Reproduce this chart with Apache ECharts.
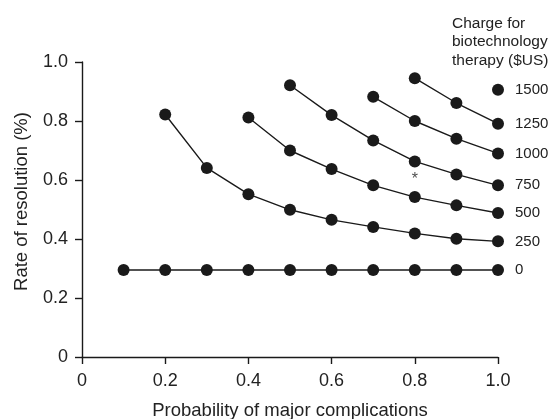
<!DOCTYPE html>
<html>
<head>
<meta charset="utf-8">
<script src="https://cdn.jsdelivr.net/npm/echarts@6/dist/echarts.min.js"></script>
<style>
html,body{margin:0;padding:0;background:#fff;}
#chart{width:552px;height:419px;}
</style>
</head>
<body>
<div id="chart"></div>
<script>
// Probability of major complications (x positions of the points)
const xValues = [0.1, 0.2, 0.3, 0.4, 0.5, 0.6, 0.7, 0.8, 0.9, 1.0];
// Charge for biotechnology therapy ($US) — series names
const charges = ['0', '250', '500', '750', '1000', '1250', '1500'];
// Rate of resolution, each aligned to the last points of xValues
const rate0    = [0.295, 0.295, 0.295, 0.295, 0.295, 0.295, 0.295, 0.295, 0.295, 0.295];
const rate250  = [0.822, 0.641, 0.552, 0.499, 0.465, 0.441, 0.419, 0.401, 0.392];
const rate500  = [0.812, 0.700, 0.637, 0.582, 0.542, 0.514, 0.488];
const rate750  = [0.921, 0.820, 0.734, 0.663, 0.619, 0.582];
const rate1000 = [0.882, 0.800, 0.740, 0.690];
const rate1250 = [0.945, 0.861, 0.791];
const rate1500 = [0.906];
const rates = [rate0, rate250, rate500, rate750, rate1000, rate1250, rate1500];
// Asterisk marker
const asteriskPoint = [0.8, 0.60];
const xTicks = [0, 0.2, 0.4, 0.6, 0.8, 1.0];
const yTicks = [0, 0.2, 0.4, 0.6, 0.8, 1.0];

const INK = '#1a1a1a';
const TXT = '#222';
const FONT = '"Liberation Sans", Arial, sans-serif';

function fmt(v) { return v === 0 ? '0' : v.toFixed(1); }

const series = rates.map(function (vals, i) {
  const xs = xValues.slice(xValues.length - vals.length);
  const data = vals.map(function (v, j) {
    const item = { value: [xs[j], v] };
    if (j === vals.length - 1) {
      item.label = {
        show: true, position: 'right', distance: 11,
        formatter: charges[i], color: TXT, fontSize: 15, fontFamily: FONT
      };
    }
    return item;
  });
  return {
    name: charges[i], type: 'line', data: data,
    symbol: 'circle', symbolSize: 12, showSymbol: true,
    lineStyle: { color: INK, width: 1.4 },
    itemStyle: { color: INK },
    label: { show: false },
    emphasis: { disabled: true },
    animation: false, z: 2
  };
});

series.push({
  type: 'scatter', data: [asteriskPoint], symbolSize: 0,
  label: { show: true, position: 'inside', formatter: '*', color: TXT, fontSize: 16, fontFamily: FONT },
  animation: false, silent: true
});

const chart = echarts.init(document.getElementById('chart'), null, { renderer: 'canvas' });
chart.setOption({
  backgroundColor: '#fff',
  animation: false,
  grid: { left: 82, right: 54, top: 62, bottom: 62, containLabel: false, outerBoundsMode: 'none' },
  xAxis: {
    type: 'value', min: 0, max: 1.0, interval: 0.2,
    name: 'Probability of major complications', nameLocation: 'middle', nameGap: 44,
    nameTextStyle: { color: TXT, fontSize: 18.5, fontFamily: FONT },
    axisLine: { show: true, onZero: false, lineStyle: { color: INK, width: 1.4 } },
    axisTick: { show: true, inside: false, length: 7, lineStyle: { color: INK, width: 1.4 } },
    axisLabel: { color: TXT, fontSize: 18, fontFamily: FONT, margin: 15, formatter: fmt },
    splitLine: { show: false }
  },
  yAxis: {
    type: 'value', min: 0, max: 1.0, interval: 0.2,
    name: 'Rate of resolution (%)', nameLocation: 'middle', nameGap: 51, nameRotate: 90,
    nameTextStyle: { color: TXT, fontSize: 18.5, fontFamily: FONT, padding: [0, 0, 0, 16] },
    axisLine: { show: true, onZero: false, lineStyle: { color: INK, width: 1.4 } },
    axisTick: { show: true, inside: false, length: 7, lineStyle: { color: INK, width: 1.4 } },
    axisLabel: { color: TXT, fontSize: 18, fontFamily: FONT, margin: 14, formatter: fmt },
    splitLine: { show: false }
  },
  graphic: [{
    type: 'text', left: 452, top: 14,
    style: {
      text: 'Charge for\nbiotechnology\ntherapy ($US)',
      fill: TXT, fontSize: 15.5, fontFamily: FONT, lineHeight: 18.6
    }
  }],
  series: series
});
</script>
</body>
</html>
